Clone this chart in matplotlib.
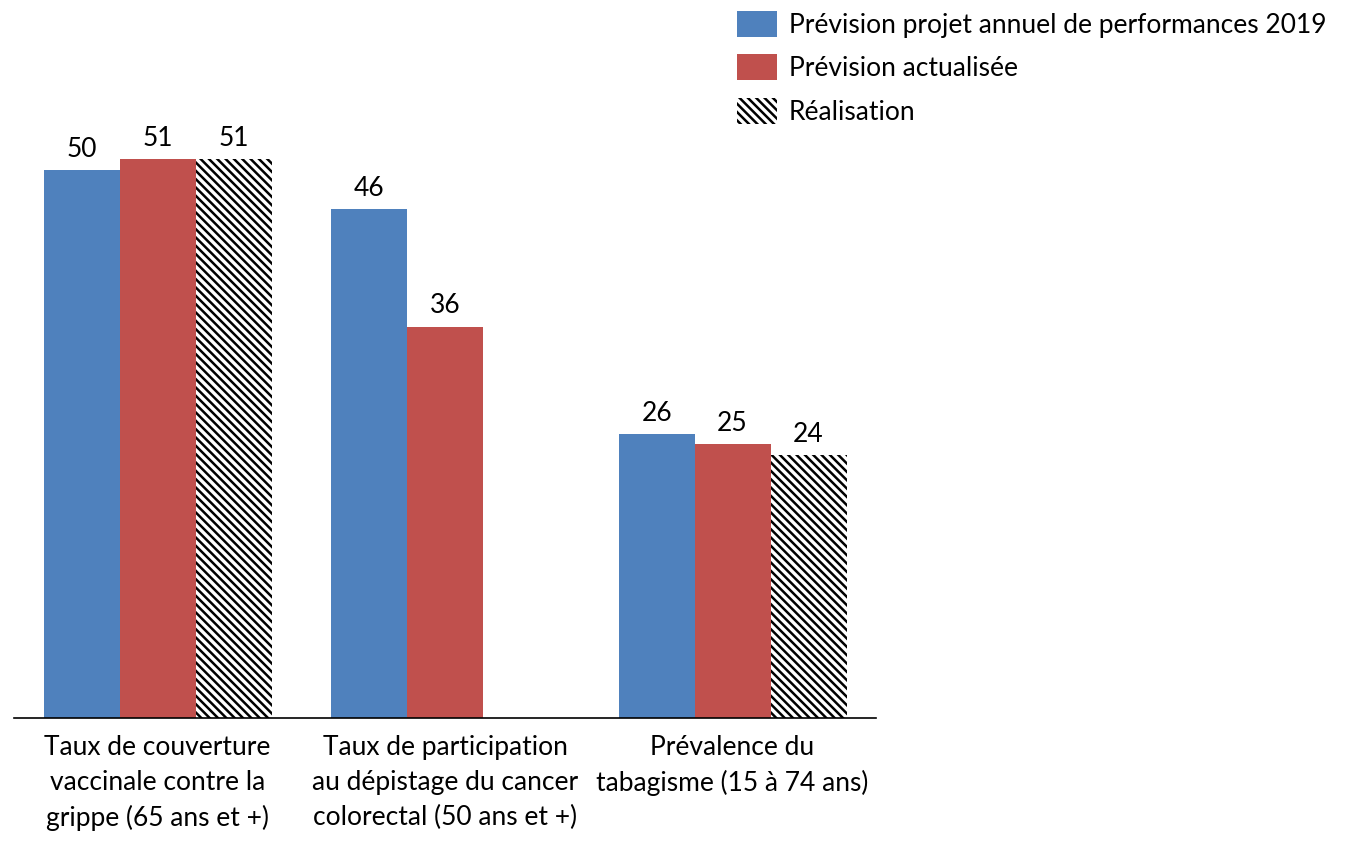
import numpy as np
import matplotlib
matplotlib.use("Agg")
import matplotlib.pyplot as plt

# =========================
# DONNEES
# =========================
categories = [
    "Taux de couverture\nvaccinale contre la\ngrippe (65 ans et +)",
    "Taux de participation\nau dépistage du cancer\ncolorectal (50 ans et +)",
    "Prévalence du\ntabagisme (15 à 74 ans)",
]
prevision_pap = [50.0, 46.4, 25.9]
prevision_actualisee = [51.0, 35.7, 25.0]
realisation = [51.0, np.nan, 24.0]

series_labels = [
    "Prévision projet annuel de performances 2019",
    "Prévision actualisée",
    "Réalisation",
]

plt.rcParams["font.family"] = ["Lato", "DejaVu Sans"]
plt.rcParams["hatch.linewidth"] = 1.8
TAILLE = 19

fig = plt.figure(figsize=(13.54, 8.5), dpi=100)
ax = fig.add_axes([0.0102, 0.1553, 0.637, 0.7736])

x = np.arange(len(categories))
w = 0.2643

b1 = ax.bar(x - w, prevision_pap, w, color="#4F81BD", linewidth=0, label=series_labels[0])
b2 = ax.bar(x, prevision_actualisee, w, color="#C0504D", linewidth=0, label=series_labels[1])
b3 = ax.bar(x + w, realisation, w, color="white", edgecolor="black", hatch="\\\\\\\\",
            linewidth=0, label=series_labels[2])

# etiquettes de valeurs
for barres, valeurs in [(b1, prevision_pap), (b2, prevision_actualisee), (b3, realisation)]:
    for rect, v in zip(barres, valeurs):
        if np.isnan(v):
            continue
        ax.annotate(f"{v:.0f}", (rect.get_x() + rect.get_width() / 2, v),
                    xytext=(0, 6), textcoords="offset points",
                    ha="center", va="bottom", fontsize=TAILLE)

ax.set_xlim(-0.5, 2.5)
ax.set_ylim(0, 60)
ax.set_xticks(x)
ax.set_xticklabels(categories, fontsize=TAILLE, linespacing=1.5)
ax.tick_params(axis="x", length=0, pad=12)
ax.set_yticks([])
for s in ["top", "left", "right"]:
    ax.spines[s].set_visible(False)
ax.spines["bottom"].set_linewidth(1.2)

fig.legend(handles=[b1, b2, b3], labels=series_labels, loc="upper left",
           bbox_to_anchor=(737 / 1354, 1 - 11 / 850), frameon=False, fontsize=TAILLE,
           handlelength=1.52, handleheight=1.14, handletextpad=0.45,
           labelspacing=0.62, borderaxespad=0, borderpad=0)

fig.savefig("out.png", dpi=100)
